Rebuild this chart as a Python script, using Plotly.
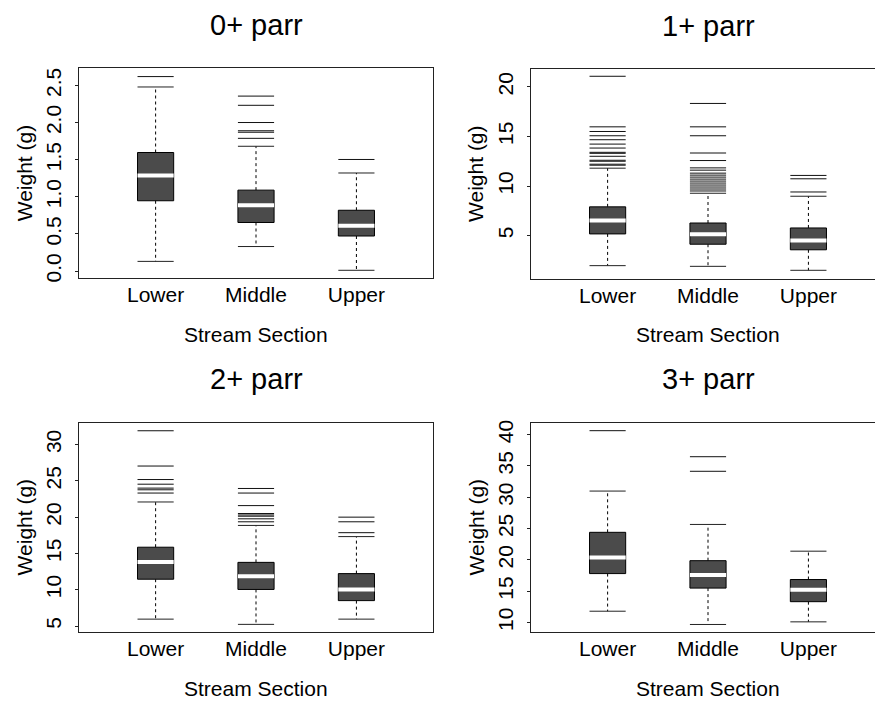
import plotly.graph_objects as go

categories = ["Lower", "Middle", "Upper"]
titles = ["0+ parr", "1+ parr", "2+ parr", "3+ parr"]

# per panel: lists per category
q1 = [[0.947, 0.654, 0.472], [5.17, 4.13, 3.57], [11.45, 10.04, 8.5], [17.81, 15.49, 13.32]]
med = [[1.286, 0.885, 0.61], [6.53, 5.13, 4.5], [13.81, 11.86, 10.04], [20.39, 17.6, 15.22]]
q3 = [[1.597, 1.09, 0.819], [7.9, 6.27, 5.77], [15.86, 13.77, 12.22], [24.4, 19.87, 16.86]]
wlo = [[0.13, 0.33, 0.01], [1.97, 1.9, 1.5], [5.95, 5.23, 5.95], [11.8, 9.68, 10.1]]
whi = [[2.48, 1.681, 1.321], [11.8, 9.27, 8.97], [22.09, 18.86, 17.32], [30.99, 25.66, 21.39]]
outliers = [
    [[2.62], [2.357, 2.233, 2.001, 1.89, 1.87, 1.788], [1.503]],
    [[21.07, 15.97, 15.5, 15.07, 14.67, 14.23, 13.83, 13.4, 13.3, 13.0, 12.6, 12.5, 12.2, 12.1],
     [18.33, 15.97, 15.07, 13.33, 12.57, 11.83, 11.6, 11.3, 11.1, 10.9, 10.7, 10.5, 10.3, 10.1, 9.9, 9.7, 9.5],
     [11.07, 10.73, 9.4]],
    [[31.9, 27.04, 25.18, 24.54, 24.0, 23.77, 23.32],
     [23.95, 23.32, 21.59, 20.5, 20.3, 20.13, 19.77, 19.36],
     [20.0, 19.36, 17.86]],
    [[40.64], [36.48, 34.15], []],
]
yticks = [[0.0, 0.5, 1.0, 1.5, 2.0, 2.5], [5, 10, 15, 20], [5, 10, 15, 20, 25, 30], [10, 15, 20, 25, 30, 35, 40]]
yticktext = [["0.0", "0.5", "1.0", "1.5", "2.0", "2.5"], ["5", "10", "15", "20"],
             ["5", "10", "15", "20", "25", "30"], ["10", "15", "20", "25", "30", "35", "40"]]
yranges = [[-0.097, 2.731], [0.67, 21.77], [4.18, 33.0], [8.48, 41.9]]

W, H = 875, 704
FONT = "Liberation Sans, Arial, sans-serif"
hw = 0.18
BOXFILL = "#4b4b4b"

# panel pixel geometry: left, right, top, bottom
panels = [(79, 433, 66, 278), (531, 875, 67, 278.3), (79, 433, 424, 635.3), (531, 875, 424, 635.3)]
pxu = 100.4

fig = go.Figure()
layout = {}
annotations = []
for p in range(4):
    L, R, T, B = panels[p]
    xa = "x" if p == 0 else f"x{p+1}"
    ya = "y" if p == 0 else f"y{p+1}"
    xr = [0.237, 0.237 + (R - L) / pxu]
    right = p in (1, 3)
    layout["xaxis" if p == 0 else f"xaxis{p+1}"] = dict(
        domain=[L / W, R / W], range=xr, anchor=ya,
        tickvals=[1, 2, 3], ticktext=categories, ticks="", showgrid=False, zeroline=False,
        showline=True, linecolor="#222", linewidth=1, mirror=True,
        tickfont=dict(family=FONT, size=21, color="black"), ticklabelstandoff=-2, fixedrange=True)
    layout["yaxis" if p == 0 else f"yaxis{p+1}"] = dict(
        domain=[1 - B / H, 1 - T / H], range=yranges[p], anchor=xa,
        tickvals=yticks[p], ticktext=yticktext[p], ticks="outside", ticklen=3, tickcolor="#222",
        tickangle=-90, showgrid=False, zeroline=False,
        showline=True, linecolor="#222", linewidth=1, mirror=(not right),
        tickfont=dict(family=FONT, size=21, color="black"), ticklabelstandoff=6, fixedrange=True)

    bx, by = [], []
    mx, my = [], []
    wx, wy = [], []
    cx, cy = [], []
    ox, oy = [], []
    for i in range(3):
        c = i + 1
        bx += [c - hw, c + hw, c + hw, c - hw, c - hw, None]
        by += [q1[p][i], q1[p][i], q3[p][i], q3[p][i], q1[p][i], None]
        mx += [c - hw, c + hw, None]
        my += [med[p][i], med[p][i], None]
        wx += [c, c, None, c, c, None]
        wy += [q3[p][i], whi[p][i], None, q1[p][i], wlo[p][i], None]
        cx += [c - hw, c + hw, None, c - hw, c + hw, None]
        cy += [whi[p][i], whi[p][i], None, wlo[p][i], wlo[p][i], None]
        for v in outliers[p][i]:
            ox += [c - hw, c + hw, None]
            oy += [v, v, None]
    common = dict(xaxis=xa, yaxis=ya, mode="lines", hoverinfo="skip", showlegend=False)
    fig.add_trace(go.Scatter(x=wx, y=wy, line=dict(color="black", width=1, dash="dot"), **common))
    fig.add_trace(go.Scatter(x=cx, y=cy, line=dict(color="#222", width=1), **common))
    fig.add_trace(go.Scatter(x=ox, y=oy, line=dict(color="#111", width=1), **common))
    fig.add_trace(go.Scatter(x=bx, y=by, fill="toself", fillcolor=BOXFILL,
                             line=dict(color="black", width=1), **common))
    fig.add_trace(go.Scatter(x=mx, y=my, line=dict(color="white", width=4), **common))

    cxp = (L + (L + 3.526 * pxu)) / 2
    annotations.append(dict(text=titles[p], x=cxp / W, y=1 - (T - 44) / H, xref="paper", yref="paper",
                            xanchor="center", yanchor="middle", showarrow=False,
                            font=dict(family=FONT, size=29, color="black")))
    annotations.append(dict(text="Stream Section", x=cxp / W, y=1 - (B + 57) / H, xref="paper", yref="paper",
                            xanchor="center", yanchor="middle", showarrow=False,
                            font=dict(family=FONT, size=21, color="black")))
    annotations.append(dict(text="Weight (g)", x=(L - 55) / W, y=1 - ((T + B) / 2) / H, xref="paper", yref="paper",
                            xanchor="center", yanchor="middle", showarrow=False, textangle=-90,
                            font=dict(family=FONT, size=21, color="black")))

fig.update_layout(width=W, height=H, margin=dict(l=0, r=0, t=0, b=0),
                  paper_bgcolor="white", plot_bgcolor="white",
                  annotations=annotations, **layout)
fig.write_html("out.html")
